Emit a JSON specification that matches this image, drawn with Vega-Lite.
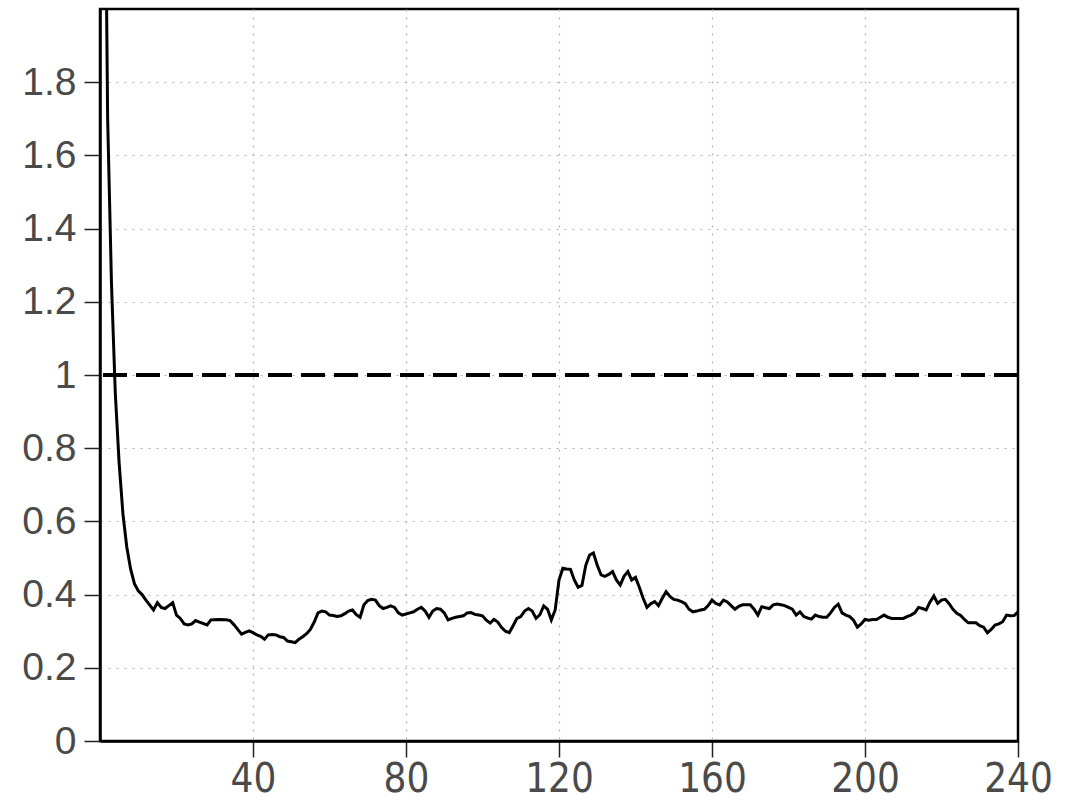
{
  "$schema": "https://vega.github.io/schema/vega-lite/v6.json",
  "autosize": {"type": "none"},
  "width": 918,
  "height": 732,
  "padding": {"left": 100, "top": 9, "right": 47, "bottom": 62},
  "background": "white",
  "config": {
    "view": {"stroke": "black", "strokeWidth": 2.5},
    "axis": {
      "domainColor": "black",
      "domainWidth": 2.5,
      "tickColor": "#222",
      "tickWidth": 1.5,
      "tickSize": 16,
      "gridColor": "#b5b5b5",
      "gridDash": [2, 6],
      "gridWidth": 1.2,
      "labelColor": "#4a4a4a",
      "title": null
    }
  },
  "data": {
    "values": [
      {"t": 1, "v": 2.8}, {"t": 2, "v": 1.7}, {"t": 3, "v": 1.25}, {"t": 4, "v": 0.95},
      {"t": 5, "v": 0.76}, {"t": 6, "v": 0.62}, {"t": 7, "v": 0.53}, {"t": 8, "v": 0.47},
      {"t": 9, "v": 0.43}, {"t": 10, "v": 0.41}, {"t": 11, "v": 0.4}, {"t": 12, "v": 0.385},
      {"t": 14, "v": 0.358}, {"t": 15, "v": 0.378}, {"t": 16, "v": 0.365}, {"t": 17, "v": 0.362},
      {"t": 18, "v": 0.37}, {"t": 19, "v": 0.378}, {"t": 20, "v": 0.344}, {"t": 21, "v": 0.335},
      {"t": 22, "v": 0.32}, {"t": 23, "v": 0.317}, {"t": 24, "v": 0.32}, {"t": 25, "v": 0.329},
      {"t": 26, "v": 0.325}, {"t": 28, "v": 0.317}, {"t": 29, "v": 0.331}, {"t": 31, "v": 0.332},
      {"t": 33, "v": 0.331}, {"t": 34, "v": 0.329}, {"t": 35, "v": 0.318}, {"t": 36, "v": 0.305},
      {"t": 37, "v": 0.292}, {"t": 38, "v": 0.297}, {"t": 39, "v": 0.301}, {"t": 40, "v": 0.296},
      {"t": 41, "v": 0.29}, {"t": 42, "v": 0.286}, {"t": 43, "v": 0.278}, {"t": 44, "v": 0.29},
      {"t": 45, "v": 0.291}, {"t": 46, "v": 0.29}, {"t": 47, "v": 0.285}, {"t": 48, "v": 0.283},
      {"t": 49, "v": 0.273}, {"t": 50, "v": 0.271}, {"t": 51, "v": 0.269}, {"t": 52, "v": 0.278},
      {"t": 53, "v": 0.285}, {"t": 54, "v": 0.293}, {"t": 55, "v": 0.305}, {"t": 56, "v": 0.325},
      {"t": 57, "v": 0.35}, {"t": 58, "v": 0.355}, {"t": 59, "v": 0.353}, {"t": 60, "v": 0.344},
      {"t": 61, "v": 0.343}, {"t": 62, "v": 0.34}, {"t": 63, "v": 0.342}, {"t": 64, "v": 0.348},
      {"t": 65, "v": 0.355}, {"t": 66, "v": 0.358}, {"t": 67, "v": 0.345}, {"t": 68, "v": 0.338},
      {"t": 69, "v": 0.372}, {"t": 70, "v": 0.384}, {"t": 71, "v": 0.387}, {"t": 72, "v": 0.385},
      {"t": 73, "v": 0.37}, {"t": 74, "v": 0.362}, {"t": 75, "v": 0.365}, {"t": 76, "v": 0.369},
      {"t": 77, "v": 0.365}, {"t": 78, "v": 0.35}, {"t": 79, "v": 0.344}, {"t": 80, "v": 0.347},
      {"t": 81, "v": 0.35}, {"t": 82, "v": 0.353}, {"t": 83, "v": 0.36}, {"t": 84, "v": 0.365},
      {"t": 85, "v": 0.355}, {"t": 86, "v": 0.338}, {"t": 87, "v": 0.355}, {"t": 88, "v": 0.362},
      {"t": 89, "v": 0.36}, {"t": 90, "v": 0.35}, {"t": 91, "v": 0.331}, {"t": 92, "v": 0.335},
      {"t": 93, "v": 0.338}, {"t": 94, "v": 0.34}, {"t": 95, "v": 0.342}, {"t": 96, "v": 0.35},
      {"t": 97, "v": 0.351}, {"t": 98, "v": 0.346}, {"t": 99, "v": 0.344}, {"t": 100, "v": 0.342},
      {"t": 101, "v": 0.33}, {"t": 102, "v": 0.322}, {"t": 103, "v": 0.332}, {"t": 104, "v": 0.325},
      {"t": 105, "v": 0.31}, {"t": 106, "v": 0.3}, {"t": 107, "v": 0.296}, {"t": 108, "v": 0.315},
      {"t": 109, "v": 0.335}, {"t": 110, "v": 0.34}, {"t": 111, "v": 0.355}, {"t": 112, "v": 0.362},
      {"t": 113, "v": 0.355}, {"t": 114, "v": 0.335}, {"t": 115, "v": 0.345}, {"t": 116, "v": 0.369},
      {"t": 117, "v": 0.36}, {"t": 118, "v": 0.331}, {"t": 119, "v": 0.358}, {"t": 120, "v": 0.44},
      {"t": 121, "v": 0.472}, {"t": 122, "v": 0.47}, {"t": 123, "v": 0.469}, {"t": 124, "v": 0.44},
      {"t": 125, "v": 0.42}, {"t": 126, "v": 0.425}, {"t": 127, "v": 0.48}, {"t": 128, "v": 0.508},
      {"t": 129, "v": 0.514}, {"t": 130, "v": 0.48}, {"t": 131, "v": 0.454}, {"t": 132, "v": 0.45},
      {"t": 133, "v": 0.455}, {"t": 134, "v": 0.463}, {"t": 135, "v": 0.44}, {"t": 136, "v": 0.426},
      {"t": 137, "v": 0.45}, {"t": 138, "v": 0.463}, {"t": 139, "v": 0.44}, {"t": 140, "v": 0.447},
      {"t": 141, "v": 0.42}, {"t": 142, "v": 0.39}, {"t": 143, "v": 0.365}, {"t": 144, "v": 0.375},
      {"t": 145, "v": 0.381}, {"t": 146, "v": 0.37}, {"t": 147, "v": 0.39}, {"t": 148, "v": 0.408},
      {"t": 149, "v": 0.395}, {"t": 150, "v": 0.387}, {"t": 151, "v": 0.385}, {"t": 152, "v": 0.381},
      {"t": 153, "v": 0.375}, {"t": 154, "v": 0.36}, {"t": 155, "v": 0.353}, {"t": 156, "v": 0.355},
      {"t": 157, "v": 0.358}, {"t": 158, "v": 0.36}, {"t": 159, "v": 0.37}, {"t": 160, "v": 0.385},
      {"t": 161, "v": 0.376}, {"t": 162, "v": 0.372}, {"t": 163, "v": 0.385}, {"t": 164, "v": 0.38},
      {"t": 165, "v": 0.37}, {"t": 166, "v": 0.36}, {"t": 167, "v": 0.368}, {"t": 168, "v": 0.372},
      {"t": 169, "v": 0.372}, {"t": 170, "v": 0.372}, {"t": 171, "v": 0.36}, {"t": 172, "v": 0.344},
      {"t": 173, "v": 0.367}, {"t": 174, "v": 0.364}, {"t": 175, "v": 0.362}, {"t": 176, "v": 0.372},
      {"t": 177, "v": 0.374}, {"t": 178, "v": 0.372}, {"t": 179, "v": 0.37}, {"t": 180, "v": 0.365},
      {"t": 181, "v": 0.36}, {"t": 182, "v": 0.344}, {"t": 183, "v": 0.353}, {"t": 184, "v": 0.34},
      {"t": 185, "v": 0.336}, {"t": 186, "v": 0.333}, {"t": 187, "v": 0.344}, {"t": 188, "v": 0.34},
      {"t": 189, "v": 0.338}, {"t": 190, "v": 0.338}, {"t": 191, "v": 0.35}, {"t": 192, "v": 0.365},
      {"t": 193, "v": 0.374}, {"t": 194, "v": 0.35}, {"t": 195, "v": 0.344}, {"t": 196, "v": 0.34},
      {"t": 197, "v": 0.33}, {"t": 198, "v": 0.311}, {"t": 199, "v": 0.32}, {"t": 200, "v": 0.332},
      {"t": 201, "v": 0.33}, {"t": 202, "v": 0.332}, {"t": 203, "v": 0.332}, {"t": 204, "v": 0.338},
      {"t": 205, "v": 0.344}, {"t": 206, "v": 0.338}, {"t": 207, "v": 0.335}, {"t": 208, "v": 0.335},
      {"t": 209, "v": 0.335}, {"t": 210, "v": 0.335}, {"t": 211, "v": 0.34}, {"t": 212, "v": 0.344},
      {"t": 213, "v": 0.35}, {"t": 214, "v": 0.365}, {"t": 215, "v": 0.362}, {"t": 216, "v": 0.358},
      {"t": 217, "v": 0.38}, {"t": 218, "v": 0.396}, {"t": 219, "v": 0.376}, {"t": 220, "v": 0.385},
      {"t": 221, "v": 0.387}, {"t": 222, "v": 0.375}, {"t": 223, "v": 0.36}, {"t": 224, "v": 0.349},
      {"t": 225, "v": 0.343}, {"t": 226, "v": 0.332}, {"t": 227, "v": 0.323}, {"t": 228, "v": 0.323},
      {"t": 229, "v": 0.323}, {"t": 230, "v": 0.315}, {"t": 231, "v": 0.311}, {"t": 232, "v": 0.296},
      {"t": 233, "v": 0.305}, {"t": 234, "v": 0.317}, {"t": 235, "v": 0.32}, {"t": 236, "v": 0.326},
      {"t": 237, "v": 0.344}, {"t": 238, "v": 0.342}, {"t": 239, "v": 0.343}, {"t": 240, "v": 0.353}
    ]
  },
  "encoding": {
    "x": {
      "field": "t", "type": "quantitative",
      "scale": {"domain": [0, 240], "nice": false, "zero": false},
      "axis": {
        "values": [40, 80, 120, 160, 200, 240],
        "labelFont": "Liberation Sans Narrow, DejaVu Sans Condensed, Liberation Sans",
        "labelFontSize": 40,
        "labelPadding": 2,
        "labelFlush": false,
        "gridOpacity": {"condition": {"test": "datum.value == 240", "value": 0}, "value": 1}
      }
    },
    "y": {
      "field": "v", "type": "quantitative",
      "scale": {"domain": [0, 2], "nice": false},
      "axis": {
        "values": [0, 0.2, 0.4, 0.6, 0.8, 1, 1.2, 1.4, 1.6, 1.8],
        "format": "~g",
        "labelFont": "Liberation Sans",
        "labelFontSize": 39,
        "labelPadding": 8,
        "labelFlush": false,
        "gridOpacity": {"condition": {"test": "datum.value == 0", "value": 0}, "value": 1}
      }
    }
  },
  "layer": [
    {
      "mark": {"type": "line", "color": "black", "strokeWidth": 3, "clip": true}
    },
    {
      "mark": {"type": "rule", "color": "black", "strokeWidth": 2.6, "strokeDash": [24, 9]},
      "encoding": {"y": {"datum": 1}, "x": null}
    }
  ]
}
